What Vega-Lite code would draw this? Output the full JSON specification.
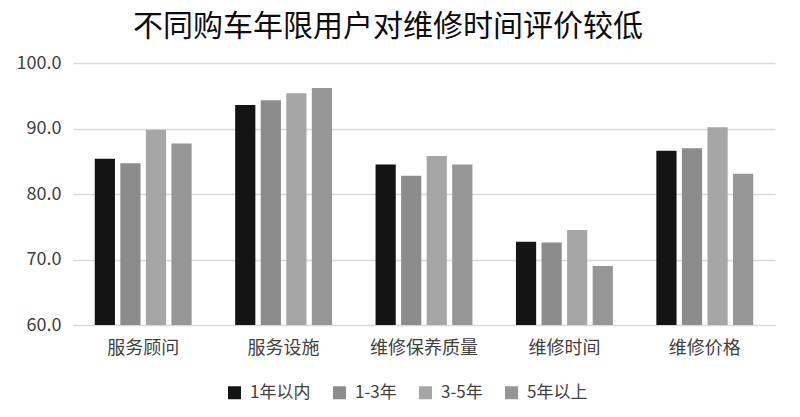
{
  "$schema": "https://vega.github.io/schema/vega-lite/v6.json",
  "autosize": "none",
  "width": 702,
  "height": 262,
  "padding": {"left": 73, "top": 63, "right": 25, "bottom": 92},
  "background": "white",
  "config": {
    "font": "Noto Sans CJK SC",
    "view": {"stroke": null}
  },
  "title": {
    "text": "不同购车年限用户对维修时间评价较低",
    "fontSize": 30,
    "fontWeight": "normal",
    "color": "#0d0d0d",
    "anchor": "middle",
    "dx": -36,
    "offset": 12
  },
  "data": {
    "values": [
      {"item": "服务顾问", "group": "1年以内", "value": 85.4},
      {"item": "服务顾问", "group": "1-3年", "value": 84.7},
      {"item": "服务顾问", "group": "3-5年", "value": 89.8},
      {"item": "服务顾问", "group": "5年以上", "value": 87.7},
      {"item": "服务设施", "group": "1年以内", "value": 93.6},
      {"item": "服务设施", "group": "1-3年", "value": 94.3},
      {"item": "服务设施", "group": "3-5年", "value": 95.4},
      {"item": "服务设施", "group": "5年以上", "value": 96.2},
      {"item": "维修保养质量", "group": "1年以内", "value": 84.5},
      {"item": "维修保养质量", "group": "1-3年", "value": 82.8},
      {"item": "维修保养质量", "group": "3-5年", "value": 85.8},
      {"item": "维修保养质量", "group": "5年以上", "value": 84.5},
      {"item": "维修时间", "group": "1年以内", "value": 72.7},
      {"item": "维修时间", "group": "1-3年", "value": 72.6},
      {"item": "维修时间", "group": "3-5年", "value": 74.5},
      {"item": "维修时间", "group": "5年以上", "value": 69.0},
      {"item": "维修价格", "group": "1年以内", "value": 86.6},
      {"item": "维修价格", "group": "1-3年", "value": 87.0},
      {"item": "维修价格", "group": "3-5年", "value": 90.2},
      {"item": "维修价格", "group": "5年以上", "value": 83.1}
    ]
  },
  "mark": {"type": "bar", "clip": true},
  "encoding": {
    "x": {
      "field": "item",
      "type": "nominal",
      "sort": ["服务顾问", "服务设施", "维修保养质量", "维修时间", "维修价格"],
      "scale": {"paddingInner": 0.31, "paddingOuter": 0.155},
      "axis": {
        "title": null,
        "labelAngle": 0,
        "labelFontSize": 18,
        "labelColor": "#404040",
        "labelPadding": 14,
        "ticks": false,
        "domain": true,
        "domainColor": "#d9d9d9"
      }
    },
    "xOffset": {
      "field": "group",
      "type": "nominal",
      "sort": ["1年以内", "1-3年", "3-5年", "5年以上"],
      "scale": {"paddingInner": 0.21, "paddingOuter": 0}
    },
    "y": {
      "field": "value",
      "type": "quantitative",
      "scale": {"domain": [60, 100], "zero": false, "nice": false},
      "axis": {
        "title": null,
        "values": [60, 70, 80, 90, 100],
        "format": ".1f",
        "labelFontSize": 18,
        "labelColor": "#404040",
        "labelPadding": 12,
        "ticks": false,
        "domain": false,
        "gridColor": "#d9d9d9",
        "gridWidth": 1.5
      }
    },
    "color": {
      "field": "group",
      "type": "nominal",
      "sort": ["1年以内", "1-3年", "3-5年", "5年以上"],
      "scale": {
        "domain": ["1年以内", "1-3年", "3-5年", "5年以上"],
        "range": ["#141414", "#8c8c8c", "#a6a6a6", "#969696"]
      },
      "legend": {
        "title": null,
        "orient": "none",
        "legendX": 153,
        "legendY": 321,
        "direction": "horizontal",
        "symbolType": "square",
        "symbolSize": 169,
        "symbolStrokeWidth": 0,
        "labelFontSize": 17,
        "labelColor": "#404040",
        "labelOffset": 7,
        "columnPadding": 20
      }
    }
  }
}
